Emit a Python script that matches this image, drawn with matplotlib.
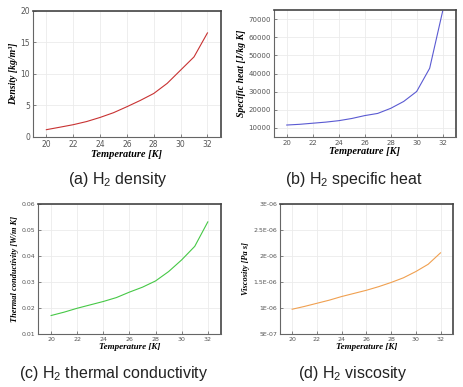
import matplotlib
matplotlib.use("Agg")
from matplotlib import pyplot as plt
import numpy as np

# temperature points [K]
temp = [20, 21, 22, 23, 24, 25, 26, 27, 28, 29, 30, 31, 32]

# H2 properties
density = [1.16, 1.55, 1.95, 2.45, 3.1, 3.85, 4.8, 5.8, 6.9, 8.5, 10.6, 12.7, 16.5]
spec_heat = [11600, 12000, 12600, 13200, 14000, 15200, 16800, 18000, 20800, 24600, 30100, 42900, 74400]
therm_cond = [0.0171, 0.0184, 0.0199, 0.0212, 0.0225, 0.0240, 0.0261, 0.0280, 0.0304, 0.0340, 0.0385, 0.0437, 0.0531]
viscosity = [9.76e-7, 1.03e-6, 1.09e-6, 1.15e-6, 1.22e-6, 1.28e-6, 1.34e-6, 1.41e-6, 1.49e-6, 1.58e-6, 1.70e-6, 1.84e-6, 2.06e-6]

x_ticks = [20, 22, 24, 26, 28, 30, 32]
cond_ticks = [0.01, 0.02, 0.03, 0.04, 0.05, 0.06]
cond_labels = ["0.01", "0.02", "0.03", "0.04", "0.05", "0.06"]
visc_ticks = [5e-7, 1e-6, 1.5e-6, 2e-6, 2.5e-6, 3e-6]
visc_labels = ["5E-07", "1E-06", "1.5E-06", "2E-06", "2.5E-06", "3E-06"]

plt.rcParams['mathtext.fontset'] = 'custom'
plt.rcParams['mathtext.rm'] = 'Liberation Sans'

fig = plt.figure(figsize=(4.64, 3.87), dpi=100)

lab_font = dict(family='Liberation Serif', weight='bold', style='italic')


def style_axes(ax, tick_size, lab_size, ylabel):
    ax.set_xlim(19, 33)
    ax.set_xticks(x_ticks)
    ax.grid(True, color='#ebebeb', linewidth=0.6)
    ax.set_axisbelow(True)
    ax.tick_params(direction='in', length=2, width=0.5, colors='#555555',
                   labelsize=tick_size, pad=2)
    for side in ['left', 'bottom']:
        ax.spines[side].set_color('#666666')
        ax.spines[side].set_linewidth(0.8)
    for side in ['top', 'right']:
        ax.spines[side].set_color('#444444')
        ax.spines[side].set_linewidth(1.2)
    ax.set_xlabel('Temperature [K]', fontsize=lab_size + 0.5, labelpad=1, **lab_font)
    ax.set_ylabel(ylabel, fontsize=lab_size, labelpad=2, **lab_font)


# (a) density
ax1 = fig.add_axes([0.071, 0.646, 0.405, 0.326])
ax1.plot(temp, density, color='#c83232', linewidth=0.8)
ax1.set_ylim(0, 20)
ax1.set_yticks([0, 5, 10, 15, 20])
style_axes(ax1, 5.5, 7, 'Density [kg/m³]')

# (b) specific heat
ax2 = fig.add_axes([0.590, 0.646, 0.392, 0.328])
ax2.plot(temp, spec_heat, color='#5a5ad2', linewidth=0.8)
ax2.set_ylim(5000, 75000)
ax2.set_yticks([10000, 20000, 30000, 40000, 50000, 60000, 70000])
style_axes(ax2, 5, 7, 'Specific heat [J/kg K]')

# (c) thermal conductivity
ax3 = fig.add_axes([0.082, 0.137, 0.394, 0.336])
ax3.plot(temp, therm_cond, color='#46c846', linewidth=0.8)
ax3.set_ylim(0.01, 0.06)
ax3.set_yticks(cond_ticks)
ax3.set_yticklabels(cond_labels)
style_axes(ax3, 4.5, 6, 'Thermal conductivity [W/m K]')

# (d) viscosity
ax4 = fig.add_axes([0.603, 0.137, 0.373, 0.336])
ax4.plot(temp, viscosity, color='#f0a050', linewidth=0.8)
ax4.set_ylim(5e-7, 3e-6)
ax4.set_yticks(visc_ticks)
ax4.set_yticklabels(visc_labels)
style_axes(ax4, 4.5, 6, 'Viscosity [Pa s]')

cap = dict(ha='center', va='center', fontsize=11.5, family='Liberation Sans', color='#222222')
fig.text(0.254, 0.535, '(a) H$_2$ density', **cap)
fig.text(0.763, 0.535, '(b) H$_2$ specific heat', **cap)
fig.text(0.244, 0.034, '(c) H$_2$ thermal conductivity', **cap)
fig.text(0.759, 0.034, '(d) H$_2$ viscosity', **cap)

fig.savefig('out.png', dpi=100)
